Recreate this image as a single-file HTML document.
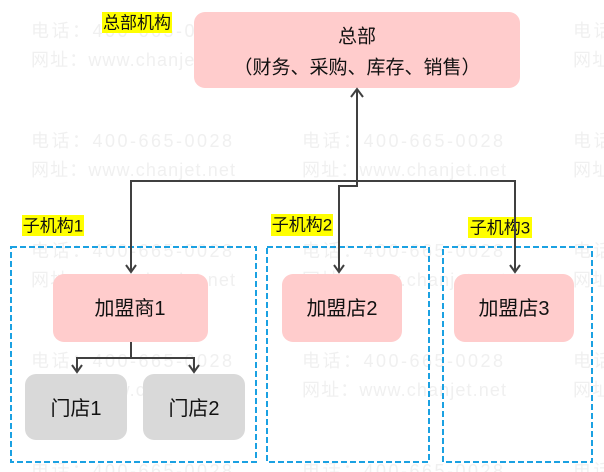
<!DOCTYPE html>
<html>
<head>
<meta charset="utf-8">
<style>
  html, body { margin:0; padding:0; background:#fff; }
  body { width:604px; height:472px; overflow:hidden; }
  svg { display:block; }
  .wm { font-family:"Liberation Sans","Noto Sans CJK SC",sans-serif; font-size:18px; fill:#f0f0f0; }
  .t { font-family:"Liberation Sans","Noto Sans CJK SC",sans-serif; fill:#111; }
</style>
</head>
<body>
<svg width="604" height="472" viewBox="0 0 604 472" xmlns="http://www.w3.org/2000/svg">
  <!-- watermarks -->
  <g class="wm">
    <text x="31" y="37" textLength="201" lengthAdjust="spacing">电话：400-665-0028</text>
    <text x="31" y="66" textLength="204" lengthAdjust="spacing">网址：www.chanjet.net</text>
    <text x="302" y="37" textLength="201" lengthAdjust="spacing">电话：400-665-0028</text>
    <text x="302" y="66" textLength="204" lengthAdjust="spacing">网址：www.chanjet.net</text>
    <text x="573" y="37" textLength="201" lengthAdjust="spacing">电话：400-665-0028</text>
    <text x="573" y="66" textLength="204" lengthAdjust="spacing">网址：www.chanjet.net</text>

    <text x="31" y="147" textLength="201" lengthAdjust="spacing">电话：400-665-0028</text>
    <text x="31" y="176" textLength="204" lengthAdjust="spacing">网址：www.chanjet.net</text>
    <text x="302" y="147" textLength="201" lengthAdjust="spacing">电话：400-665-0028</text>
    <text x="302" y="176" textLength="204" lengthAdjust="spacing">网址：www.chanjet.net</text>
    <text x="573" y="147" textLength="201" lengthAdjust="spacing">电话：400-665-0028</text>
    <text x="573" y="176" textLength="204" lengthAdjust="spacing">网址：www.chanjet.net</text>

    <text x="31" y="257" textLength="201" lengthAdjust="spacing">电话：400-665-0028</text>
    <text x="31" y="286" textLength="204" lengthAdjust="spacing">网址：www.chanjet.net</text>
    <text x="302" y="257" textLength="201" lengthAdjust="spacing">电话：400-665-0028</text>
    <text x="302" y="286" textLength="204" lengthAdjust="spacing">网址：www.chanjet.net</text>
    <text x="573" y="257" textLength="201" lengthAdjust="spacing">电话：400-665-0028</text>
    <text x="573" y="286" textLength="204" lengthAdjust="spacing">网址：www.chanjet.net</text>

    <text x="31" y="367" textLength="201" lengthAdjust="spacing">电话：400-665-0028</text>
    <text x="31" y="396" textLength="204" lengthAdjust="spacing">网址：www.chanjet.net</text>
    <text x="302" y="367" textLength="201" lengthAdjust="spacing">电话：400-665-0028</text>
    <text x="302" y="396" textLength="204" lengthAdjust="spacing">网址：www.chanjet.net</text>
    <text x="573" y="367" textLength="201" lengthAdjust="spacing">电话：400-665-0028</text>
    <text x="573" y="396" textLength="204" lengthAdjust="spacing">网址：www.chanjet.net</text>

    <text x="31" y="477" textLength="201" lengthAdjust="spacing">电话：400-665-0028</text>
    <text x="302" y="477" textLength="201" lengthAdjust="spacing">电话：400-665-0028</text>
    <text x="573" y="477" textLength="201" lengthAdjust="spacing">电话：400-665-0028</text>
  </g>

  <!-- dashed containers -->
  <g fill="none" stroke="#1ba1e2" stroke-width="2" stroke-dasharray="6,3">
    <rect x="11" y="247" width="245" height="215"/>
    <rect x="267" y="247" width="162" height="215"/>
    <rect x="443" y="247" width="149" height="215"/>
  </g>

  <!-- nodes -->
  <rect x="194" y="12" width="326" height="76" rx="11" fill="#ffcccc"/>
  <text class="t" x="357" y="37" font-size="19" text-anchor="middle" dominant-baseline="central">总部</text>
  <text class="t" x="357" y="68" font-size="19" text-anchor="middle" dominant-baseline="central">（财务、采购、库存、销售）</text>

  <rect x="53" y="274" width="155" height="68" rx="11" fill="#ffcccc"/>
  <text class="t" x="130" y="309" font-size="20" text-anchor="middle" dominant-baseline="central">加盟商1</text>

  <rect x="282" y="274" width="120" height="68" rx="11" fill="#ffcccc"/>
  <text class="t" x="342" y="309" font-size="20" text-anchor="middle" dominant-baseline="central">加盟店2</text>

  <rect x="454" y="274" width="120" height="68" rx="11" fill="#ffcccc"/>
  <text class="t" x="514" y="309" font-size="20" text-anchor="middle" dominant-baseline="central">加盟店3</text>

  <rect x="25" y="374" width="102" height="66" rx="11" fill="#d9d9d9"/>
  <text class="t" x="76" y="409" font-size="20" text-anchor="middle" dominant-baseline="central">门店1</text>

  <rect x="143" y="374" width="102" height="66" rx="11" fill="#d9d9d9"/>
  <text class="t" x="194" y="409" font-size="20" text-anchor="middle" dominant-baseline="central">门店2</text>

  <!-- labels -->
  <rect x="102" y="12" width="70" height="21" fill="#ffff00"/>
  <text class="t" x="137" y="23" font-size="17" text-anchor="middle" dominant-baseline="central">总部机构</text>

  <rect x="22" y="215" width="62" height="21" fill="#ffff00"/>
  <text class="t" x="53" y="226" font-size="17" text-anchor="middle" dominant-baseline="central">子机构1</text>

  <rect x="271" y="214" width="62" height="22" fill="#ffff00"/>
  <text class="t" x="302" y="225" font-size="17" text-anchor="middle" dominant-baseline="central">子机构2</text>

  <rect x="468" y="217" width="64" height="21" fill="#ffff00"/>
  <text class="t" x="500" y="228" font-size="17" text-anchor="middle" dominant-baseline="central">子机构3</text>

  <!-- connectors -->
  <g fill="none" stroke="#404040" stroke-width="2">
    <polyline points="357,89 357,186 339,186 339,272"/>
    <polyline points="131,272 131,181 515,181 515,272"/>
    <polyline points="131,342 131,358"/>
    <polyline points="77,371 77,358 194,358 194,371"/>
    <!-- arrowheads -->
    <polyline points="351,97 357,89 363,97"/>
    <polyline points="126,265 131,272 136,265"/>
    <polyline points="334,265 339,272 344,265"/>
    <polyline points="510,265 515,272 520,265"/>
    <polyline points="72,365 77,372 82,365"/>
    <polyline points="189,365 194,372 199,365"/>
  </g>
</svg>
</body>
</html>
